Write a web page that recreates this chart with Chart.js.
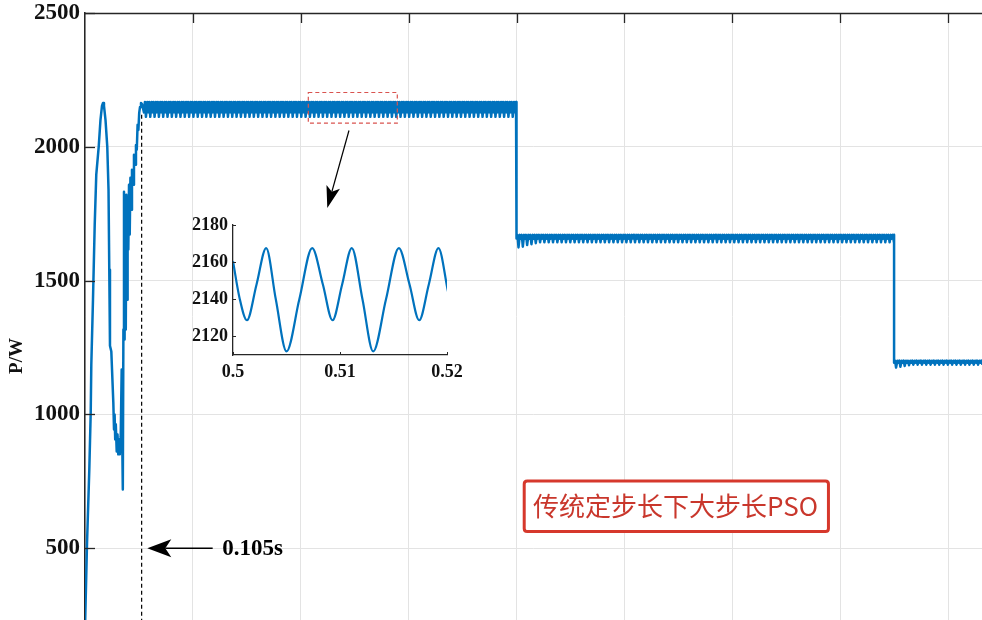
<!DOCTYPE html>
<html>
<head>
<meta charset="utf-8">
<script src="https://cdn.jsdelivr.net/npm/chart.js@4.4.1/dist/chart.umd.min.js"></script>
<style>
html,body{margin:0;padding:0;background:#fff;overflow:hidden;width:982px;height:620px;}
#wrap{position:relative;width:982px;height:620px;}
#main{position:absolute;left:0;top:0;}
#inset{position:absolute;left:173px;top:213px;}
</style>
</head>
<body>
<div id="wrap">
<canvas id="main" width="982" height="620"></canvas>
<canvas id="inset" width="294" height="172"></canvas>
</div>
<script>
// ---------------- data ----------------
// start-up transient (time s, power W)
const transT = [0, 0.0037, 0.0080, 0.0106, 0.0117, 0.0148, 0.0180, 0.0209, 0.0254, 0.0287,
  0.0315, 0.0334, 0.0352, 0.0380, 0.0413, 0.0436, 0.0450, 0.0463, 0.0488, 0.0525,
  0.0538, 0.0549, 0.0560, 0.0571, 0.0588, 0.0603, 0.0617, 0.0630, 0.0645, 0.0662,
  0.0680, 0.0690, 0.0701, 0.0712, 0.0723, 0.0734, 0.0745, 0.0756, 0.0767, 0.0779,
  0.0790, 0.0803, 0.0816, 0.0829, 0.0842, 0.0856, 0.0871, 0.0890, 0.0908, 0.0927,
  0.0945, 0.0960, 0.0975, 0.0990, 0.1005, 0.1020, 0.1038, 0.1057];
const transP = [200, 515, 795, 1007, 1187, 1429, 1709, 1896, 2000, 2101,
  2153, 2164, 2153, 2101, 2000, 1840, 1541, 1257, 1235, 1045,
  944, 1000, 907, 963, 862, 925, 851, 907, 851, 918,
  1168, 907, 720, 1317, 1832, 1280, 1784, 1317, 1821, 1429,
  1802, 1616, 1858, 1672, 1884, 1765, 1914, 1858, 1970, 1933,
  2007, 1989, 2082, 2063, 2127, 2149, 2164, 2160];

// one ripple period (0.008 s): phase offsets (s)
const ripplePeriod = 0.008;
const ripplePhase = [0, 0.0018, 0.0037, 0.0061];
const firstRipple = 0.1093;
// ripple extremes on each power level (shallow min, peak, deep min, peak)
const level1 = [2128.7, 2167.6, 2111.9, 2167.6];
const level2 = [1657, 1671, 1643, 1671];
const level3 = [1193, 1201, 1186, 1201];
// deeper dips right after each irradiance step
const dips2 = [1624, 1627, 1633, 1636, 1640];
const dips3 = [1175, 1178, 1181, 1184];
const stepTimes = [0.8, 1.5];

// marker of convergence time
const markT = 0.105;
const markTop = 2120;

// axes
const xMax = 1.663;
const yMin = 232;
const yMax = 2500;
const xGrid = [0, 0.2, 0.4, 0.6, 0.8, 1.0, 1.2, 1.4, 1.6];
const yTicks = [500, 1000, 1500, 2000, 2500];
const yTickLabels = ['500', '1000', '1500', '2000', '2500'];

// inset (zoom 0.5 – 0.52 s)
const insetT = [0.5, 0.5006, 0.5013, 0.5022, 0.5031, 0.5040, 0.5050, 0.5062, 0.5074, 0.5084,
  0.5093, 0.5102, 0.5111, 0.5121, 0.5131, 0.5143, 0.5155, 0.5165, 0.5174, 0.5183, 0.5192, 0.5201];
const insetP = [2160.5, 2141, 2128.7, 2148, 2167.6, 2140, 2111.9, 2140, 2167.6, 2148,
  2128.7, 2148, 2167.6, 2140, 2111.9, 2140, 2167.6, 2148, 2128.7, 2148, 2167.6, 2144];
const insetXTicks = [0.5, 0.51, 0.52];
const insetXLabels = ['0.5', '0.51', '0.52'];
const insetYTicks = [2120, 2140, 2160, 2180];
const insetYLabels = ['2120', '2140', '2160', '2180'];

const labelText = '传统定步长下大步长PSO';
const markText = '0.105s';
const yTitle = 'P/W';

// ---------------- styling ----------------
const SERIF = "'Liberation Serif','Times New Roman',serif";
const BLUE = '#0072BD';
const AXIS = '#262626';
const GRID = '#e3e3e3';

function buildSeries() {
  const pts = transT.map((t, i) => ({x: t, y: transP[i]}));
  const addLevel = (tFrom, tTo, levels, dips) => {
    let k = 0;
    for (let t0 = tFrom; t0 < tTo; t0 += ripplePeriod, k++) {
      ripplePhase.forEach((ph, j) => {
        const t = t0 + ph;
        if (t >= tTo) return;
        let v = levels[j];
        if (j === 2 && dips && k < dips.length) v = dips[k];
        pts.push({x: t, y: v});
      });
    }
  };
  addLevel(firstRipple, stepTimes[0], level1, null);
  pts.push({x: stepTimes[0], y: level1[1]});
  addLevel(stepTimes[0], stepTimes[1], level2, dips2);
  pts.push({x: stepTimes[1], y: level2[1]});
  addLevel(stepTimes[1], xMax + 0.01, level3, dips3);
  return pts;
}

function arrow(ctx, x1, y1, x2, y2, len, half, notch) {
  const a = Math.atan2(y2 - y1, x2 - x1);
  const ux = Math.cos(a), uy = Math.sin(a), nx = -uy, ny = ux;
  const bx = x2 - ux * len, by = y2 - uy * len;
  const qx = x2 - ux * (len - notch), qy = y2 - uy * (len - notch);
  ctx.beginPath(); ctx.moveTo(x1, y1); ctx.lineTo(qx, qy); ctx.stroke();
  ctx.beginPath();
  ctx.moveTo(x2, y2);
  ctx.lineTo(bx + nx * half, by + ny * half);
  ctx.lineTo(qx, qy);
  ctx.lineTo(bx - nx * half, by - ny * half);
  ctx.closePath(); ctx.fill();
}

const mainDecor = {
  id: 'mainDecor',
  afterDraw(chart) {
    const {ctx, chartArea: ca, scales: {x, y}} = chart;
    ctx.save();
    // top frame line
    ctx.strokeStyle = AXIS; ctx.lineWidth = 1.5;
    ctx.beginPath(); ctx.moveTo(ca.left, ca.top + 0.5); ctx.lineTo(ca.right, ca.top + 0.5); ctx.stroke();
    // inward ticks
    ctx.lineWidth = 1.3;
    y.ticks.forEach(t => {
      const py = Math.round(y.getPixelForValue(t.value)) + 0.5;
      ctx.beginPath(); ctx.moveTo(ca.left, py); ctx.lineTo(ca.left + 10, py); ctx.stroke();
    });
    x.ticks.forEach(t => {
      if (t.value <= 0) return;
      const px = Math.round(x.getPixelForValue(t.value)) + 0.5;
      ctx.beginPath(); ctx.moveTo(px, ca.top); ctx.lineTo(px, ca.top + 10); ctx.stroke();
    });
    // y axis title
    ctx.fillStyle = '#111';
    ctx.font = 'bold 19px ' + SERIF;
    ctx.textAlign = 'center'; ctx.textBaseline = 'middle';
    ctx.save(); ctx.translate(17, 356); ctx.rotate(-Math.PI / 2); ctx.fillText(yTitle, 0, 0); ctx.restore();

    // arrow to convergence marker + text
    ctx.strokeStyle = '#000'; ctx.fillStyle = '#000'; ctx.lineWidth = 1.3;
    const ay = y.getPixelForValue(500);
    arrow(ctx, x.getPixelForValue(0.2367), ay, x.getPixelForValue(0.1155), ay, 24, 9, 6);
    ctx.font = 'bold 23px ' + SERIF;
    ctx.textAlign = 'left'; ctx.textBaseline = 'middle';
    ctx.fillText(markText, x.getPixelForValue(0.2545), ay + 1);

    // red dashed zoom box
    ctx.save();
    ctx.strokeStyle = '#d9534f'; ctx.lineWidth = 1.2; ctx.setLineDash([4, 3]);
    const bx1 = x.getPixelForValue(0.414), bx2 = x.getPixelForValue(0.579);
    const by1 = y.getPixelForValue(2203), by2 = y.getPixelForValue(2088.5);
    ctx.strokeRect(bx1, by1, bx2 - bx1, by2 - by1);
    ctx.restore();

    // arrow to inset
    ctx.lineWidth = 1.2;
    arrow(ctx, x.getPixelForValue(0.4894), y.getPixelForValue(2061), x.getPixelForValue(0.4492), y.getPixelForValue(1771), 22, 7, 5);

    // label box
    const lx1 = x.getPixelForValue(0.8115) + 1.5, lx2 = x.getPixelForValue(1.3811) - 1.5;
    const ly1 = y.getPixelForValue(757) + 1.5, ly2 = y.getPixelForValue(557) - 1.5;
    const r = 3;
    ctx.beginPath();
    ctx.moveTo(lx1 + r, ly1); ctx.lineTo(lx2 - r, ly1); ctx.quadraticCurveTo(lx2, ly1, lx2, ly1 + r);
    ctx.lineTo(lx2, ly2 - r); ctx.quadraticCurveTo(lx2, ly2, lx2 - r, ly2);
    ctx.lineTo(lx1 + r, ly2); ctx.quadraticCurveTo(lx1, ly2, lx1, ly2 - r);
    ctx.lineTo(lx1, ly1 + r); ctx.quadraticCurveTo(lx1, ly1, lx1 + r, ly1);
    ctx.closePath();
    ctx.fillStyle = '#fff'; ctx.fill();
    ctx.strokeStyle = '#d6382c'; ctx.lineWidth = 3; ctx.stroke();
    ctx.fillStyle = '#c9372c';
    ctx.font = "26px 'Noto Sans CJK SC','Noto Sans',sans-serif";
    ctx.textAlign = 'center'; ctx.textBaseline = 'middle';
    ctx.fillText(labelText, x.getPixelForValue(1.0947), y.getPixelForValue(659));
    ctx.restore();
  }
};

const insetDecor = {
  id: 'insetDecor',
  afterDraw(chart) {
    const {ctx, chartArea: ca, scales: {x, y}} = chart;
    ctx.save();
    ctx.strokeStyle = AXIS; ctx.lineWidth = 1;
    y.ticks.forEach(t => {
      const py = Math.round(y.getPixelForValue(t.value)) + 0.5;
      ctx.beginPath(); ctx.moveTo(ca.left, py); ctx.lineTo(ca.left + 3, py); ctx.stroke();
    });
    x.ticks.forEach(t => {
      const px = Math.round(x.getPixelForValue(t.value)) + 0.5;
      ctx.beginPath(); ctx.moveTo(px, ca.bottom); ctx.lineTo(px, ca.bottom - 3); ctx.stroke();
    });
    ctx.restore();
  }
};

new Chart(document.getElementById('main'), {
  type: 'line',
  data: {
    datasets: [
      {data: buildSeries(), borderColor: BLUE, borderWidth: 2.5, pointRadius: 0, tension: 0,
       borderJoinStyle: 'round', fill: false},
      {data: [{x: markT, y: markTop}, {x: markT, y: yMin}], borderColor: '#000', borderWidth: 1.2,
       borderDash: [4, 3], pointRadius: 0, fill: false}
    ]
  },
  options: {
    responsive: false, animation: false, events: [],
    layout: {padding: {top: 13, left: 0, right: 0, bottom: 0}},
    plugins: {legend: {display: false}, tooltip: {enabled: false}},
    scales: {
      x: {type: 'linear', min: 0, max: xMax,
        afterBuildTicks: s => { s.ticks = xGrid.map(v => ({value: v})); },
        afterFit: s => { s.height = 0; s.paddingLeft = 0; s.paddingRight = 0; },
        grid: {color: GRID, lineWidth: 1, drawTicks: false},
        border: {display: false},
        ticks: {display: false}},
      y: {type: 'linear', min: yMin, max: yMax,
        afterBuildTicks: s => { s.ticks = yTicks.map(v => ({value: v})); },
        afterFit: s => { s.width = 85; s.paddingTop = 0; s.paddingBottom = 0; },
        grid: {color: GRID, lineWidth: 1, drawTicks: false},
        border: {display: true, color: AXIS, width: 1.5},
        ticks: {padding: 5, color: '#111', font: {family: SERIF, size: 23, weight: 'bold'},
          callback: (v, i) => yTickLabels[i]}}
    }
  },
  plugins: [mainDecor]
});

new Chart(document.getElementById('inset'), {
  type: 'line',
  data: {
    datasets: [{data: insetT.map((t, i) => ({x: t, y: insetP[i]})), borderColor: BLUE, borderWidth: 2.2,
      pointRadius: 0, cubicInterpolationMode: 'monotone', fill: false}]
  },
  options: {
    responsive: false, animation: false, events: [],
    layout: {padding: {top: 12, right: 20, left: 0, bottom: 0}},
    plugins: {legend: {display: false}, tooltip: {enabled: false}},
    scales: {
      x: {type: 'linear', min: 0.5, max: 0.52,
        afterBuildTicks: s => { s.ticks = insetXTicks.map(v => ({value: v})); },
        afterFit: s => { s.height = 30; s.paddingLeft = 0; s.paddingRight = 0; },
        grid: {display: false, drawTicks: false},
        border: {display: true, color: AXIS, width: 1.3},
        ticks: {padding: 7, maxRotation: 0, autoSkip: false, color: '#111',
          font: {family: SERIF, size: 18, weight: 'bold'}, callback: (v, i) => insetXLabels[i]}},
      y: {type: 'linear', min: 2110, max: 2180,
        afterBuildTicks: s => { s.ticks = insetYTicks.map(v => ({value: v})); },
        afterFit: s => { s.width = 60; s.paddingTop = 0; s.paddingBottom = 0; },
        grid: {display: false, drawTicks: false},
        border: {display: true, color: AXIS, width: 1.3},
        ticks: {padding: 5, color: '#111', font: {family: SERIF, size: 18, weight: 'bold'},
          callback: (v, i) => insetYLabels[i]}}
    }
  },
  plugins: [insetDecor]
});
</script>
</body>
</html>
